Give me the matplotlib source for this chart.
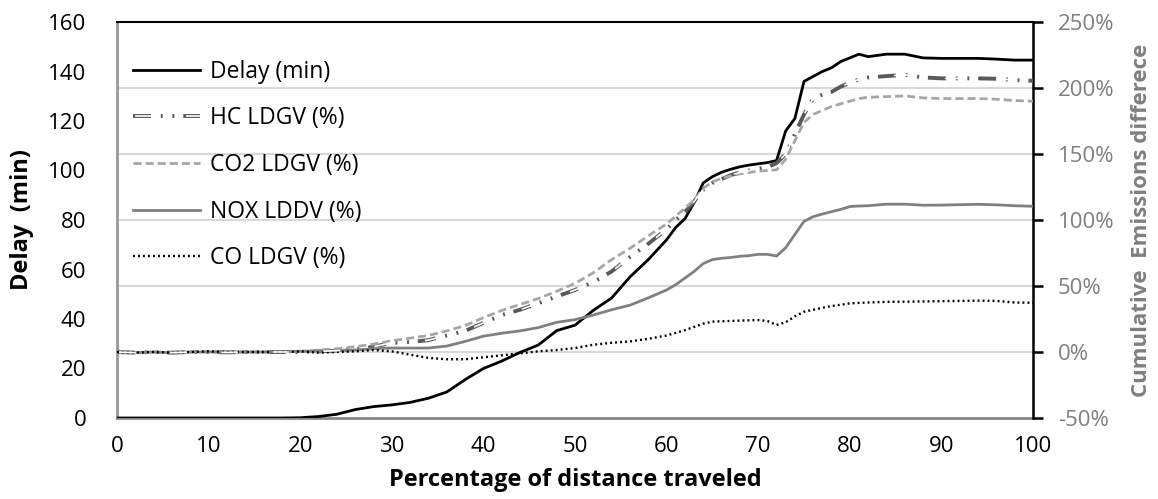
import matplotlib
matplotlib.use("Agg")
import matplotlib.pyplot as plt

plt.rcParams['font.family'] = ['Open Sans', 'DejaVu Sans']
plt.rcParams['lines.scale_dashes'] = False

# ---- data ----
x = [0, 2, 4, 6, 8, 10, 12, 14, 16, 18, 20, 22, 24, 26, 28, 30, 32, 34, 36, 38,
     40, 42, 44, 46, 48, 50, 52, 54, 56, 58, 60,
     61, 62, 63, 64, 65, 66, 67, 68, 69, 70, 71, 72, 73, 74, 75, 76, 77, 78, 79, 80, 81, 82,
     84, 86, 88, 90, 92, 94, 96, 98, 100]

delay = [0, 0, 0, 0, 0, 0, 0, 0, 0, 0, 0.1, 0.6, 1.5, 3.4, 4.6, 5.3, 6.3, 8.0, 10.5, 15.5,
         20.0, 23.0, 26.5, 29.5, 35.3, 37.5, 43.5, 48.5, 57.0, 64.0, 72.0,
         77.0, 80.5, 87.0, 95.0, 97.5, 99.3, 100.5, 101.5, 102.2, 102.7, 103.2, 104.0, 116.0, 121.0, 136.0,
         138.0, 140.0, 141.5, 144.0, 145.5, 147.0, 146.0,
         147.0, 147.0, 145.5, 145.3, 145.3, 145.3, 145.0, 144.6, 144.6]

hc = [0, -0.5, 0, -0.5, 0, 0, -0.3, 0, 0, 0, 0, 0.5, 1, 2, 4, 7, 7.5, 9, 12.5, 16,
      22, 28, 32, 37, 42, 47, 53, 61, 72, 82, 93,
      100, 106, 114, 123, 128, 131, 134, 136, 137.5, 139, 140, 143, 150, 165, 180,
      192, 195, 197, 201, 204, 206.5, 208,
      209, 210, 208, 207.3, 207.3, 207.3, 207, 206, 205.5]

co2 = [0, -0.5, 0, -0.5, 0, 0.3, 0, 0, 0, 0.3, 0.5, 1.5, 2.5, 4, 6, 8.5, 10.5, 12.5, 16, 20,
       26, 31.5, 36, 40.5, 46, 52, 60, 70, 78.5, 88, 97,
       103, 109, 115, 124, 129, 131.5, 133.5, 135, 136, 137, 137.5, 138, 146, 160, 174,
       180, 183, 186, 188, 190, 192, 193,
       193.5, 194, 192.5, 192, 192, 192, 191.5, 190.5, 190]

nox = [0, -0.5, 0, -0.5, 0, 0, 0, 0, 0, 0.3, 0.5, 0.5, 1, 1.5, 2.5, 3, 3, 3, 4.5, 8,
       12, 14.2, 16, 18.5, 22.5, 24.5, 28, 32, 35.5, 41, 47,
       51, 56, 61, 67, 70, 71, 71.6, 72.5, 73, 74, 74, 72.7, 79, 89, 99,
       102.5, 104.5, 106.3, 108, 110.2, 110.6, 110.8,
       112, 112, 111.2, 111.3, 111.6, 111.9, 111.5, 110.8, 110.4]

co = [0, -0.5, 0, -0.5, 0, 0.5, 0, 0, 0, 0, 0.5, -0.5, 0, 0.5, 1.5, 0.5, -2, -4.5, -5.5, -5.5,
      -4, -2.5, -1, 0.5, 1.5, 3, 5.5, 7, 8, 10, 12.5,
      14.5, 16.5, 19, 21.5, 23, 23.3, 23.5, 23.8, 24, 24.2, 23.5, 20.5, 22.5, 27, 30.5,
      32, 33.5, 34.8, 35.8, 36.8, 37.2, 37.5,
      38, 38.1, 38.3, 38.5, 38.7, 38.9, 38.7, 37.5, 37.3]

x_ticks = [0, 10, 20, 30, 40, 50, 60, 70, 80, 90, 100]
left_ticks = [0, 20, 40, 60, 80, 100, 120, 140, 160]
right_ticks = [-50, 0, 50, 100, 150, 200, 250]

# ---- figure ----
fig = plt.figure(figsize=(11.58, 4.99), dpi=100)
ax = fig.add_axes([117 / 1158, 1 - 418 / 499, 916 / 1158, 396 / 499])
ax2 = ax.twinx()

FS = 16
FS_LAB = 17
FS_LEG = 16.5
gray_txt = '#7f7f7f'

ax.set_xlim(0, 100)
ax.set_ylim(0, 160)
ax2.set_ylim(-50, 250)

# gridlines (from secondary axis) drawn on primary axes behind everything
for p in right_ticks[1:-1]:
    ax.axhline((p + 50) * 160 / 300, color='#d9d9d9', lw=1.5, zorder=0)

l_delay, = ax.plot(x, delay, color='black', lw=2.0, solid_joinstyle='round', zorder=3)

hc_out, = ax2.plot(x, hc, color='#5a5a5a', lw=2.8,
                   linestyle=(0, (13, 7, 1.4, 7, 1.4, 6.4)), zorder=3)
hc_in, = ax2.plot(x, hc, color='white', lw=1.2,
                  linestyle=(35.3, (12, 24.8)), zorder=3.1)

l_co2, = ax2.plot(x, co2, color='#a6a6a6', lw=2.0, linestyle=(0, (5.8, 2.9)), zorder=3)
l_nox, = ax2.plot(x, nox, color='#808080', lw=2.0, zorder=3)
l_co, = ax2.plot(x, co, color='black', lw=1.7, linestyle=(0, (1.4, 2.2)), zorder=3)

# axes styling
ax.set_xticks(x_ticks)
ax.set_yticks(left_ticks)
ax2.set_yticks(right_ticks)
ax2.set_yticklabels([f'{v}%' for v in right_ticks])

ax.spines['top'].set_color('black')
ax.spines['top'].set_linewidth(1.5)
ax2.spines['top'].set_visible(False)
ax.spines['left'].set_color('#999999')
ax.spines['left'].set_linewidth(2.0)
ax.spines['bottom'].set_color('#888888')
ax.spines['bottom'].set_linewidth(2.0)
ax.spines['right'].set_visible(False)
ax2.spines['left'].set_visible(False)
ax2.spines['bottom'].set_visible(False)
ax2.spines['right'].set_color('black')
ax2.spines['right'].set_linewidth(1.8)

ax.tick_params(axis='x', length=0, labelsize=FS, pad=13, colors='black')
ax.tick_params(axis='y', length=0, labelsize=FS, pad=22, colors='black')
ax2.tick_params(axis='y', length=7, width=1.8, direction='out', color='black',
                labelsize=FS, labelcolor=gray_txt, pad=11)

ax.set_xlabel('Percentage of distance traveled', fontsize=FS_LAB, fontweight='bold', labelpad=8)
ax.set_ylabel('Delay  (min)', fontsize=FS_LAB, fontweight='bold', labelpad=10)
ax2.set_ylabel('Cumulative  Emissions differece', fontsize=16, fontweight='bold',
               color=gray_txt, labelpad=12)

handles = [l_delay, (hc_out, hc_in), l_co2, l_nox, l_co]
labels = ['Delay (min)', 'HC LDGV (%)', 'CO2 LDGV (%)', 'NOX LDDV (%)', 'CO LDGV (%)']
leg = ax2.legend(handles, labels, loc='upper left', bbox_to_anchor=(0.017, 0.905),
                 frameon=False, fontsize=FS_LEG, handlelength=2.93, handletextpad=0.44,
                 labelspacing=0.99, borderpad=0, borderaxespad=0)

fig.savefig('out.png', dpi=100)
